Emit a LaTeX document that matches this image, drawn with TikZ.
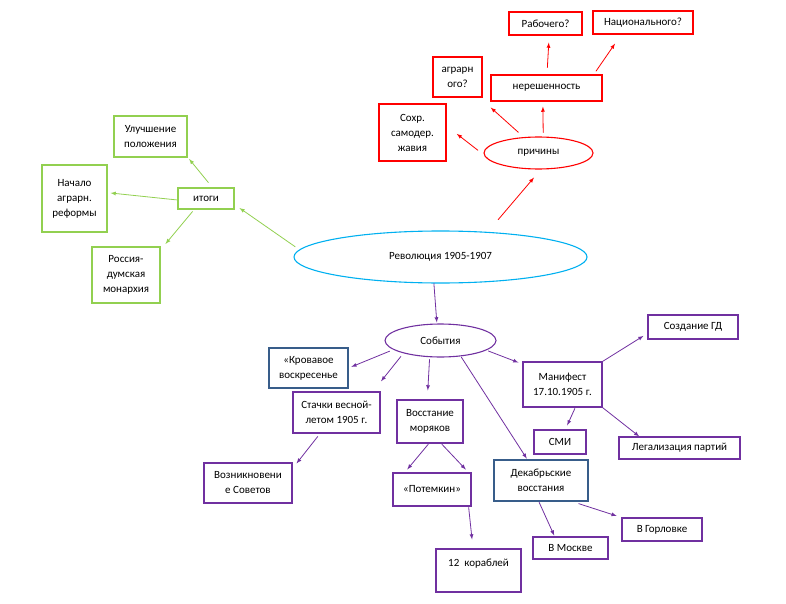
\documentclass[tikz,border=0pt]{standalone}
\usepackage{fontspec}
\setmainfont{Carlito}
\usepackage{xcolor}
\definecolor{myred}{RGB}{255,0,0}
\definecolor{mygreen}{RGB}{146,208,80}
\definecolor{mypurple}{RGB}{112,48,160}
\definecolor{mynavy}{RGB}{56,93,138}
\definecolor{myblue}{RGB}{0,176,240}
\usetikzlibrary{shapes.geometric}

\begin{document}
\begin{tikzpicture}[x=1pt,y=-1pt,thick,line cap=round,>=latex,font=\fontsize{11}{15}\selectfont]
	\tikzstyle{kras}=[draw=myred,line width=1.1pt,rectangle,align=center,inner sep=1pt];
	\tikzstyle{zel}=[draw=mygreen,line width=1.1pt,rectangle,align=center,inner sep=1pt];
	\tikzstyle{fiol}=[draw=mypurple,line width=1.1pt,rectangle,align=center,inner sep=1pt];
	\tikzstyle{sin}=[draw=mynavy,line width=1.1pt,rectangle,align=center,inner sep=1pt];
	\tikzstyle{oval}=[ellipse,line width=1.1pt,inner sep=0pt];
	\useasboundingbox (0,0) rectangle (786,604);
	% center
	\node[oval,draw=myblue,minimum width=293pt,minimum height=52pt] (rev) at (440.5,257) {Революция 1905-1907};
	% reasons
	\node[oval,draw=myred,minimum width=109pt,minimum height=32pt] (prich) at (538.5,153) {причины};
	\node[kras,minimum width=73pt,minimum height=23pt] (rab) at (545.5,23.5) {Рабочего?};
	\node[kras,minimum width=100pt,minimum height=23pt] (nac) at (643,22.5) {Национального?};
	\node[kras,minimum width=49pt,minimum height=40pt] (agr) at (457.5,77) {аграрн\\ого?};
	\node[kras,minimum width=111pt,minimum height=26pt] (nere) at (546.5,88) {нерешенность};
	\node[kras,minimum width=67pt,minimum height=57pt] (sohr) at (412.5,132.5) {Сохр.\\ самодер.\\жавия};
	% results
	\node[zel,minimum width=56pt,minimum height=21pt] (itogi) at (206,198.5) {итоги};
	\node[zel,minimum width=73pt,minimum height=41pt] (ulu) at (150.5,136.5) {Улучшение\\положения};
	\node[zel,minimum width=65pt,minimum height=67pt] (nach) at (74.5,198.5) {Начало\\аграрн.\\реформы};
	\node[zel,minimum width=68pt,minimum height=56pt] (ross) at (126,275) {Россия-\\думская\\монархия};
	% events
	\node[oval,draw=mypurple,minimum width=111pt,minimum height=33pt] (sob) at (440.5,340.5) {События};
	\node[sin,minimum width=79pt,minimum height=40pt] (krov) at (308.5,368) {«Кровавое\\воскресенье};
	\node[fiol,minimum width=87pt,minimum height=41pt] (stach) at (336.5,412.5) {Стачки весной-\\летом 1905 г.};
	\node[fiol,minimum width=66pt,minimum height=43pt] (vosst) at (430,421.5) {Восстание\\моряков};
	\node[fiol,minimum width=88pt,minimum height=40pt] (vozn) at (248,483) {Возникновени\\е Советов};
	\node[fiol,minimum width=78pt,minimum height=33pt] (potem) at (432,489.5) {«Потемкин»};
	\node[fiol,minimum width=85pt,minimum height=43pt] (kor) at (478.5,570.5) {12~~кораблей\\\mbox{}};
	\node[sin,minimum width=94pt,minimum height=41pt] (dek) at (541,480.5) {Декабрьские\\восстания};
	\node[fiol,minimum width=79pt,minimum height=45pt] (man) at (562.5,384.5) {Манифест\\17.10.1905 г.};
	\node[fiol,minimum width=90pt,minimum height=24pt] (sozd) at (693,327) {Создание ГД};
	\node[fiol,minimum width=52pt,minimum height=24pt] (smi) at (560,442) {СМИ};
	\node[fiol,minimum width=121pt,minimum height=22pt] (leg) at (679.5,448) {Легализация партий};
	\node[fiol,minimum width=80pt,minimum height=23pt] (gor) at (662,529.5) {В Горловке};
	\node[fiol,minimum width=75pt,minimum height=22pt] (msk) at (570.5,548) {В Москве};
	% red arrows
	\draw[->,myred,shorten <=16pt,shorten >=10.5pt] (rev.28) -- (prich.-82);
	\draw[->,myred,shorten <=7.5pt,shorten >=13pt] (prich.182) -- (sohr.11);
	\draw[->,myred,shorten <=7pt,shorten >=15pt] (prich.133) -- (agr.-43);
	\draw[->,myred,shorten <=4pt,shorten >=5pt] (prich.74) -- (nere.-105);
	\draw[->,myred,shorten <=7pt,shorten >=7pt] (nere.88) -- (rab.-73);
	\draw[->,myred,shorten <=4pt,shorten >=11pt] (nere.16) -- (nac.-151);
	% green arrows
	\draw[->,mygreen,shorten <=5pt,shorten >=6pt] (rev.177) -- (itogi.-12);
	\draw[->,mygreen,shorten <=6.4pt,shorten >=2.5pt] (itogi.60) -- (ulu.-29);
	\draw[->,mygreen,shorten <=1pt,shorten >=3pt] (itogi.183) -- (nach.10);
	\draw[->,mygreen,shorten <=2.6pt,shorten >=7.7pt] (itogi.-137) -- (ross.36);
	% purple arrows
	\draw[->,mypurple,shorten >=1pt] (rev.-104) -- (sob.102);
	\draw[->,mypurple,shorten <=4pt,shorten >=3pt] (sob.-169) -- (krov.east);
	\draw[->,mypurple,shorten <=4pt,shorten >=13pt] (sob.-161) -- (stach.30);
	\draw[->,mypurple,shorten <=2.3pt,shorten >=9pt] (sob.-123) -- (vosst.97);
	\draw[->,mypurple,shorten <=2pt,shorten >=4.3pt] (sob.-12) -- (man.153);
	\draw[->,mypurple,shorten <=1pt,shorten >=1pt] (sob.-38) -- (dek.123);
	\draw[->,mypurple,shorten <=3.8pt,shorten >=6.4pt] (stach.-128) -- (vozn.18);
	\draw[->,mypurple,shorten <=1pt,shorten >=3.9pt] (vosst.-93) -- (potem.148);
	\draw[->,mypurple,shorten <=1pt,shorten >=4pt] (vosst.-63) -- (potem.25);
	\draw[->,mypurple,shorten <=1pt,shorten >=9pt] (potem.-25) -- (kor.104);
	\draw[->,mypurple,shorten >=4.7pt] (man.north east) -- (sozd.-172);
	\draw[->,mypurple,shorten <=1pt,shorten >=4.4pt] (man.-61) -- (smi.67);
	\draw[->,mypurple] (man.south east) -- (leg.164);
	\draw[->,mypurple,shorten <=1pt,shorten >=1pt] (dek.-96) -- (msk.144);
	\draw[->,mypurple,shorten <=6.8pt,shorten >=5pt] (dek.-34) -- (gor.north west);
\end{tikzpicture}
\end{document}
